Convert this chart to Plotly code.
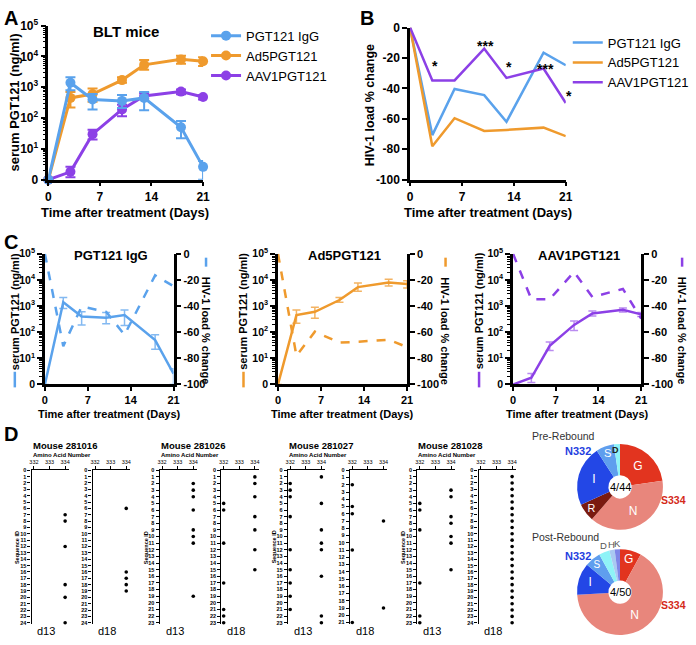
import plotly.graph_objects as go

W, H = 696, 645
FONT = "Liberation Sans"

# ---------------- data ----------------
days = [0, 3, 6, 10, 13, 18, 21]
# Panel A / C : serum PGT121 (ng/ml); the "0" of the log axis is drawn at value 1
igg_mean = [1, 1400, 400, 360, 450, 50, 2.6]
igg_hi = [1, 2100, 600, 560, 700, 80, 4.0]
igg_lo = [1, 800, 190, 210, 180, 22, 1.0]
ad5_mean = [1, 450, 600, 1700, 5300, 8000, 7000]
ad5_hi = [1, 700, 900, 2100, 7600, 10500, 9300]
ad5_lo = [1, 220, 340, 1400, 3700, 5800, 4900]
aav_mean = [1, 1.8, 30, 190, 520, 720, 480]
aav_hi = [1, 2.6, 42, 270, 650, 850, 560]
aav_lo = [1, 1.2, 20, 115, 420, 590, 400]

# Panel B / C : HIV-1 load % change
igg_load = [0, -70.7, -40.4, -44.4, -62, -16.5, -24.8]
ad5_load = [0, -78, -59.6, -68, -67.3, -65.8, -71.4]
aav_load = [0, -34.8, -34.8, -13.9, -33.1, -26.9, -49.6]
star_days = [3.3, 10.2, 13.4, 18.3, 21]
star_vals = [-25, -12, -26, -27, -45]
star_text = ["*", "***", "*", "***", "*"]

series_names = ["PGT121 IgG", "Ad5PGT121", "AAV1PGT121"]
log_ticks = [1, 10, 100, 1000, 10000, 100000]
log_text = ["0", "10<sup>1</sup>", "10<sup>2</sup>", "10<sup>3</sup>", "10<sup>4</sup>", "10<sup>5</sup>"]
load_ticks = [0, -20, -40, -60, -80, -100]
load_text = ["0", "-20", "-40", "-60", "-80", "-100"]
day_ticks = [0, 7, 14, 21]

# Panel D : sequence IDs carrying mutations at amino acid 332 / 334
mice = ["281016", "281026", "281027", "281028"]
seq_max = {("281016", "d13"): 24, ("281016", "d18"): 24,
           ("281026", "d13"): 23, ("281026", "d18"): 23,
           ("281027", "d13"): 23, ("281027", "d18"): 21,
           ("281028", "d13"): 23, ("281028", "d18"): 24}
mut332 = {("281016", "d13"): [], ("281016", "d18"): [],
          ("281026", "d13"): [], ("281026", "d18"): [5, 6, 11, 17, 21, 22, 23],
          ("281027", "d13"): [2, 3, 4, 7, 12, 15, 17, 19, 21], ("281027", "d18"): [2, 5, 6, 11, 21],
          ("281028", "d13"): [5, 6, 9, 17, 22, 23], ("281028", "d18"): []}
mut334 = {("281016", "d13"): [7, 8, 12, 18, 20, 24], ("281016", "d18"): [6, 16, 17, 18, 19],
          ("281026", "d13"): [2, 3, 4, 6, 9, 10, 11, 19], ("281026", "d18"): [1, 2, 4, 7, 9, 12, 15],
          ("281027", "d13"): [1, 5, 9, 11, 12, 16, 22, 23], ("281027", "d18"): [7, 19],
          ("281028", "d13"): [3, 4, 7, 8, 10, 11, 15],
          ("281028", "d18"): [1, 2, 3, 4, 5, 6, 7, 8, 9, 10, 11, 12, 13, 14, 15, 16, 17, 18, 19, 20, 21, 22, 23, 24]}
aa_ticks = [332, 333, 334]

# Pies
pre_labels = ["G", "N", "R", "I", "S", "D"]
pre_values = [10, 17, 3, 10, 3, 1]
pre_colors = ["#E2341F", "#E8867C", "#7A1A10", "#2347E6", "#5F9EEE", "#8FF3F7"]
pre_text = ["G", "N", "R", "I", "S", ""]
post_labels = ["G", "N", "I", "S", "D", "H", "K"]
post_values = [4, 33, 6, 3, 2, 1, 1]
post_colors = ["#E2341F", "#E8867C", "#2347E6", "#5F9EEE", "#8FF3F7", "#A9C9F2", "#7E86E8"]
post_text = ["G", "N", "I", "S", "", "", ""]

BLUE, ORANGE, PURPLE = "#5AA2EC", "#EF9A2D", "#8C40E6"
BLUE_L, ORANGE_L, PURPLE_L = "rgba(90,162,236,0.75)", "rgba(239,154,45,0.75)", "rgba(140,64,230,0.6)"


def fx(p):
    return p / W


def fy(p):
    return 1 - p / H


def err(mean, hi, lo):
    return [h - m for h, m in zip(hi, mean)], [m - l for m, l in zip(mean, lo)]


MINOR = dict(tickvals=[m * 10 ** e for e in range(0, 5) for m in range(2, 10)],
             ticks="outside", ticklen=3, tickwidth=1.2, tickcolor="black")


def axis(domain, size=12, lw=2.5, tl=5, tw=2, bold=True, **kw):
    d = dict(showline=True, linecolor="black", linewidth=lw, ticks="outside",
             ticklen=tl, tickwidth=tw, tickcolor="black", showgrid=False, zeroline=False,
             fixedrange=True,
             tickfont=dict(family=FONT, size=size, color="black", weight="bold" if bold else "normal"))
    if domain is not None:
        d["domain"] = domain
    d.update(kw)
    return d


fig = go.Figure()
layout = dict(width=W, height=H, margin=dict(l=0, r=0, t=0, b=0),
              paper_bgcolor="white", plot_bgcolor="rgba(0,0,0,0)",
              font=dict(family=FONT, color="black"))
annotations = []
shapes = []


def ann(text, x, y, size, bold=False, color="black", angle=0, xanchor="center", yanchor="middle"):
    annotations.append(dict(text=("<b>%s</b>" % text) if bold else text, x=fx(x), y=fy(y),
                            xref="paper", yref="paper", showarrow=False, textangle=angle,
                            xanchor=xanchor, yanchor=yanchor,
                            font=dict(family=FONT, size=size, color=color)))


means = [igg_mean, ad5_mean, aav_mean]
his = [igg_hi, ad5_hi, aav_hi]
los = [igg_lo, ad5_lo, aav_lo]
loads = [igg_load, ad5_load, aav_load]
cols = [BLUE, ORANGE, PURPLE]
cols_l = [BLUE_L, ORANGE_L, PURPLE_L]

# ---------------- Panel A ----------------
for i in [1, 2, 0]:
    up, dn = err(means[i], his[i], los[i])
    fig.add_trace(go.Scatter(x=days, y=means[i], mode="lines+markers", name=series_names[i],
                             line=dict(color=cols[i], width=3), marker=dict(color=cols[i], size=10),
                             error_y=dict(type="data", symmetric=False, array=up, arrayminus=dn,
                                          color=cols[i], thickness=2, width=5),
                             xaxis="x", yaxis="y", cliponaxis=False, legend="legend",
                             legendrank=i + 1, hoverinfo="skip"))
layout["xaxis"] = axis([fx(46), fx(203)], range=[0, 21], tickvals=day_ticks, anchor="y", ticklen=4)
layout["yaxis"] = axis([fy(175), fy(17)], type="log", range=[0, 5], tickvals=log_ticks,
                       ticktext=log_text, anchor="x", minor=MINOR)
ann("A", 8, 9, 20, bold=True)
ann("BLT mice", 125, 23, 15, bold=True)
ann("serum PGT121 (ng/ml)", 12, 96, 13, bold=True, angle=-90)
ann("Time after treatment (Days)", 124, 209, 13, bold=True)

# ---------------- Panel B ----------------
for i in [0, 1, 2]:
    fig.add_trace(go.Scatter(x=days, y=loads[i], mode="lines", name=series_names[i],
                             line=dict(color=cols[i], width=2.5), xaxis="x2", yaxis="y2",
                             cliponaxis=False, legend="legend2", hoverinfo="skip"))
layout["xaxis2"] = axis([fx(413), fx(571)], range=[0, 21], tickvals=day_ticks, anchor="y2", ticklen=4)
layout["yaxis2"] = axis([fy(175), fy(19)], range=[-100, 0], tickvals=load_ticks,
                        ticktext=load_text, anchor="x2")
for d, v, t in zip(star_days, star_vals, star_text):
    annotations.append(dict(text="<b>%s</b>" % t, x=d, y=v, xref="x2", yref="y2", showarrow=False,
                            xshift=3 if d >= 21 else 0,
                            font=dict(family=FONT, size=14, color="black")))
ann("B", 369, 9, 20, bold=True)
ann("HIV-1 load % change", 372, 99, 12.5, bold=True, angle=-90)
ann("Time after treatment (Days)", 492, 209, 13, bold=True)

layout["legend"] = dict(x=fx(206), y=fy(12), xanchor="left", yanchor="top",
                        font=dict(family=FONT, size=13, color="black"),
                        bgcolor="rgba(0,0,0,0)", tracegroupgap=0)
layout["legend2"] = dict(x=fx(573), y=fy(19), xanchor="left", yanchor="top",
                         font=dict(family=FONT, size=13, color="black"),
                         bgcolor="rgba(0,0,0,0)", tracegroupgap=0)

# ---------------- Panel C ----------------
c_x = [(42.5, 173), (279, 410), (517.5, 647.5)]
c_titles = series_names
c_lefttitle_x = [12, 244, 483]
c_righttitle_x = [206, 449, 689]
for k in range(3):
    xa = "x%d" % (3 + k)
    yl = "y%d" % (3 + 2 * k)
    yr = "y%d" % (4 + 2 * k)
    up, dn = err(means[k], his[k], los[k])
    fig.add_trace(go.Scatter(x=days, y=means[k], mode="lines", line=dict(color=cols[k], width=2.5),
                             error_y=dict(type="data", symmetric=False, array=up, arrayminus=dn,
                                          color=cols_l[k], thickness=1.5, width=4),
                             xaxis=xa, yaxis=yl, showlegend=False, cliponaxis=False, hoverinfo="skip"))
    fig.add_trace(go.Scatter(x=days, y=loads[k], mode="lines",
                             line=dict(color=cols[k], width=2.5, dash="dash"),
                             xaxis=xa, yaxis=yr, showlegend=False, cliponaxis=False, hoverinfo="skip"))
    x0, x1 = c_x[k]
    layout["xaxis%d" % (3 + k)] = axis([fx(x0), fx(x1)], size=11, range=[0, 21], tickvals=day_ticks,
                                       anchor=yl, ticklen=4)
    layout["yaxis%d" % (3 + 2 * k)] = axis([fy(385), fy(251)], size=10.5, type="log", range=[0, 5],
                                           tickvals=log_ticks, ticktext=log_text, anchor=xa,
                                           minor=MINOR)
    layout["yaxis%d" % (4 + 2 * k)] = axis(None, size=11, range=[-100, 0], tickvals=load_ticks,
                                           ticktext=load_text, anchor=xa, overlaying=yl, side="right")
    ann("Time after treatment (Days)", (x0 + x1) / 2, 415, 11, bold=True)
    ann(c_titles[k], (x0 + x1) / 2 + 2, 253, 13, bold=True)
    ann("serum PGT121 (ng/ml)", c_lefttitle_x[k], 310, 11, bold=True, angle=-90)
    ann("HIV-1 load % change", c_righttitle_x[k], 330, 11, bold=True, angle=90)
    lx = c_lefttitle_x[k]
    rx = c_righttitle_x[k]
    shapes.append(dict(type="line", xref="paper", yref="paper", x0=fx(lx), x1=fx(lx),
                       y0=fy(372), y1=fy(388), line=dict(color=cols[k], width=2.5)))
    shapes.append(dict(type="line", xref="paper", yref="paper", x0=fx(rx), x1=fx(rx),
                       y0=fy(255), y1=fy(273), line=dict(color=cols[k], width=2.5, dash="dash")))
ann("C", 8, 239, 20, bold=True)

# ---------------- Panel D ----------------
ann("D", 8, 436, 20, bold=True)
d13_left = [29, 159, 289, 420.5]
d18_left = [91, 221.5, 352, 482.5]
PW = 38
idx = 6
for m, mouse in enumerate(mice):
    for day, left in (("d13", d13_left[m]), ("d18", d18_left[m])):
        key = (mouse, day)
        xa = "x%d" % idx
        ya = "y%d" % (idx + 3)
        for aa, rows in ((332, mut332[key]), (334, mut334[key])):
            if rows:
                fig.add_trace(go.Scatter(x=[aa] * len(rows), y=rows, mode="markers",
                                         marker=dict(color="black", size=3.6),
                                         xaxis=xa, yaxis=ya, showlegend=False,
                                         cliponaxis=False, hoverinfo="skip"))
        nmax = seq_max[key]
        layout["xaxis%d" % idx] = axis([fx(left), fx(left + PW)], size=5.5, lw=1.4, tl=3, tw=1,
                                       bold=False, range=[331.85, 334.25], tickvals=aa_ticks,
                                       side="top", anchor=ya)
        layout["yaxis%d" % (idx + 3)] = axis([fy(631), fy(473)], size=5.5, lw=1.4, tl=3, tw=1,
                                             range=[nmax + 0.25, 0], tickvals=list(range(nmax + 1)),
                                             anchor=xa)
        ann(day, left + 15, 638, 11)
        if day == "d13":
            ann("Sequence ID", left - 14, 552, 5.5, bold=True, angle=-90)
        idx += 1
    ann("Mouse " + mouse, d13_left[m] - 1, 448, 9.5, bold=True, xanchor="left")
    ann("Amino Acid Number", d13_left[m] - 1, 457.5, 6, bold=True, xanchor="left")

# ---------------- Pies ----------------
for vals, labs, colors, txt, cy, lab, center in (
        (pre_values, pre_labels, pre_colors, pre_text, 490, "Pre-Rebound", "4/44"),
        (post_values, post_labels, post_colors, post_text, 598, "Post-Rebound", "4/50")):
    fig.add_trace(go.Pie(values=vals, labels=labs, text=txt, textinfo="text", textposition="inside",
                         insidetextorientation="horizontal", sort=False, direction="clockwise",
                         rotation=0, hole=0.27, marker=dict(colors=colors, line=dict(width=0)),
                         textfont=dict(family=FONT, size=12, color="white"),
                         domain=dict(x=[fx(582), fx(670)], y=[fy(cy + 44), fy(cy - 44)]),
                         showlegend=False, hoverinfo="skip"))
    ann(center, 626, cy, 11)
    ann("N332", 583, cy - 37, 11, bold=True, color="#1F3FE0")
    ann("S334", 680, cy + 13, 10.5, bold=True, color="#D42A1A")
ann("Pre-Rebound", 569, 438, 10.5, color="#333333")
ann("Post-Rebound", 571, 541, 10.5, color="#333333")
ann("<b>D</b>", 621, 452, 9, color="#222222")
ann("D", 609, 550, 9.5, color="#555555")
ann("H", 617, 549, 9.5, color="#555555")
ann("K", 623, 548, 9.5, color="#555555")

layout["annotations"] = annotations
layout["shapes"] = shapes
fig.update_layout(**layout)
fig.write_html("out.html", config={"displayModeBar": False},
               post_script="document.body.style.margin='0';document.body.style.overflow='hidden';")
